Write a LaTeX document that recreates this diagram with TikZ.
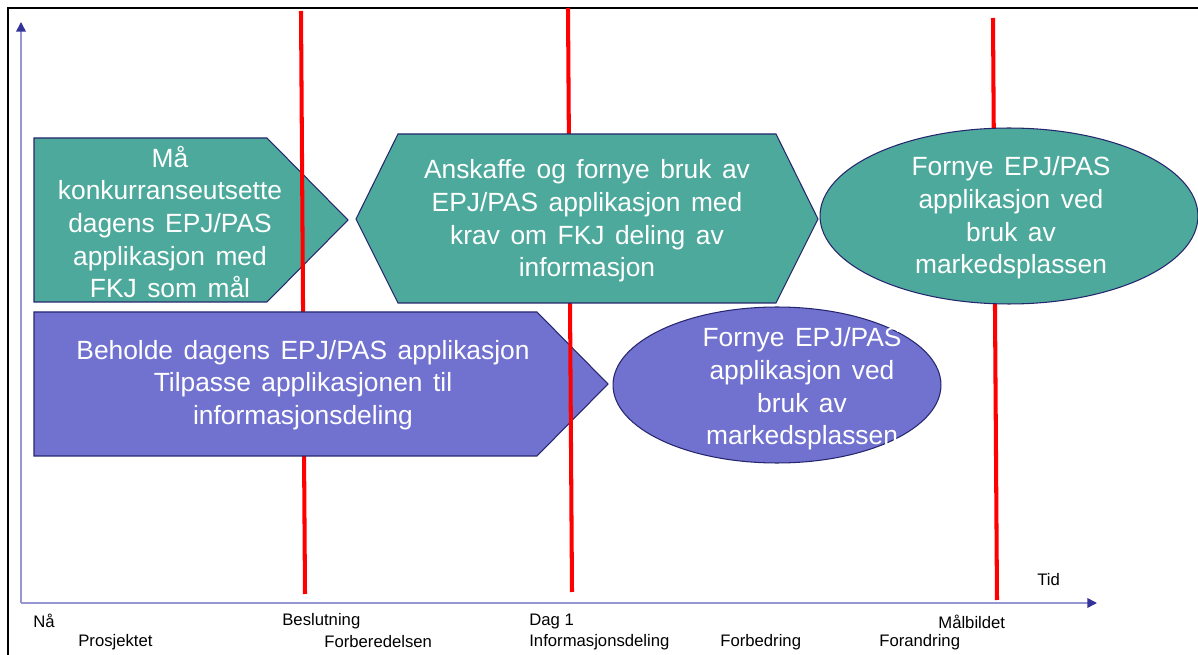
\documentclass[tikz,border=0pt]{standalone}
\usepackage{fontspec}
\setmainfont{Liberation Sans}
\usetikzlibrary{shapes.geometric, arrows.meta}

\definecolor{greenfill}{RGB}{77,169,155}
\definecolor{purplefill}{RGB}{113,113,208}
\definecolor{boxline}{RGB}{38,38,110}
\definecolor{axisline}{RGB}{150,150,210}
\definecolor{axistip}{RGB}{51,51,153}

\newcommand\boxfont{\fontsize{15}{18.6}\selectfont\spaceskip=0.4em plus 0.1em\relax}

\tikzset{
  greenbox/.style={fill=greenfill, draw=boxline, line width=0.6pt},
  purplebox/.style={fill=purplefill, draw=boxline, line width=0.6pt},
  boxtext/.style={text=white, align=center, inner sep=0pt, font=\boxfont},
  timelabel/.style={anchor=west, inner sep=0pt, font=\fontsize{9.5}{11}\selectfont},
  milestone/.style={red, line width=2.3pt},
  timeaxis/.style={axisline, line width=0.9pt,
    -{Triangle[length=5.5pt, width=5.5pt, color=axistip]}}
}

\begin{document}
\begin{tikzpicture}[x=0.02cm, y=-0.02cm]
  \useasboundingbox (0,0) rectangle (1198,655);

  % frame
  \draw[line width=1.4pt] (8,655) -- (8,8) -- (1198,8);

  % axes
  \coordinate (origin) at (21,603);
  \coordinate (ytop) at (21,22);
  \coordinate (xend) at (1097,603);
  \draw[timeaxis] (origin) -- (ytop);
  \draw[timeaxis] (origin) -- (xend);

  % milestones
  \foreach \i/\xa/\ya/\xb/\yb in {1/301/11/305/594, 2/568/8/572/592, 3/993/18/997/600}{
    \coordinate (ms\i-top) at (\xa,\ya);
    \coordinate (ms\i-bot) at (\xb,\yb);
  }

  \foreach \name/\t/\x/\y in {now/Nå/33/621, decision/Beslutning/282/621,
      day1/Dag 1/529/621, target/Målbildet/938/622, project/Prosjektet/78/642,
      prep/Forberedelsen/324/642, infoshare/Informasjonsdeling/529/642,
      improve/Forbedring/720/642, change/Forandring/879/642, time/Tid/1037/580}
    \node[timelabel] (lbl-\name) at (\x,\y) {\t};

  % green row
  \draw[greenbox] (34,138) -- (267,138) -- (348,220) -- (267,302) -- (34,302) -- cycle;
  \node[boxtext] (compete) at (170,222)
    {Må\\konkurranseutsette\\dagens EPJ/PAS\\applikasjon med\\FKJ som mål};
  \draw[milestone] (ms1-top) -- (ms1-bot);

  % purple row
  \draw[purplebox] (34,312) -- (537,312) -- (608,384) -- (537,456) -- (34,456) -- cycle;
  \node[boxtext] (keep) at (303,385)
    {Beholde dagens EPJ/PAS applikasjon\\Tilpasse applikasjonen til\\informasjonsdeling};
  \draw[milestone] (ms2-top) -- (ms2-bot);

  \draw[greenbox] (356,219) -- (398,134) -- (776,134) -- (818,219) -- (776,303) -- (398,303) -- cycle;
  \node[boxtext] (acquire) at (587,221)
    {Anskaffe og fornye bruk av\\EPJ/PAS applikasjon med\\krav om FKJ deling av\\informasjon};
  \draw[milestone] (ms3-top) -- (ms3-bot);

  \node[greenbox, ellipse, minimum width=7.56cm, minimum height=3.52cm] (renew1) at (1009,216) {};
  \node[boxtext] (renew1-text) at (1011,218)
    {Fornye EPJ/PAS\\applikasjon ved\\bruk av\\markedsplassen};

  \node[purplebox, ellipse, minimum width=6.56cm, minimum height=3.12cm] (renew2) at (777,385) {};
  \node[boxtext] (renew2-text) at (802,389)
    {Fornye EPJ/PAS\\applikasjon ved\\bruk av\\markedsplassen};

\end{tikzpicture}
\end{document}
